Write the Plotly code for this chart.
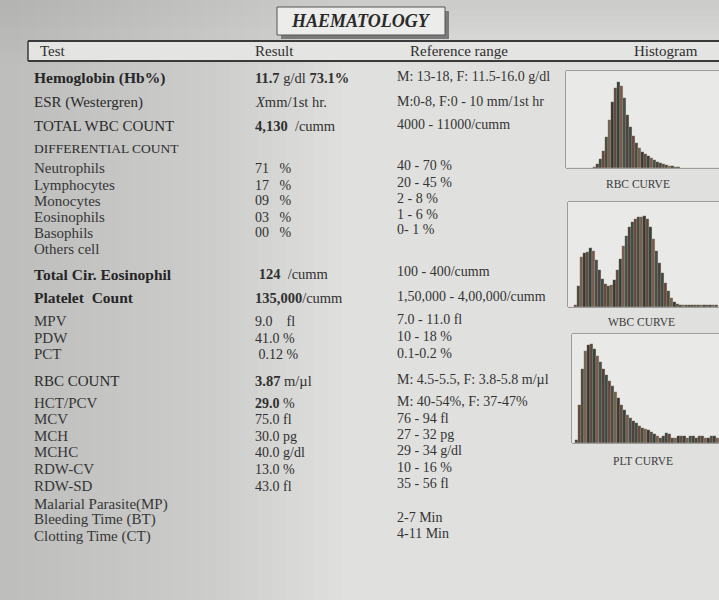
import plotly.graph_objects as go

W, H = 719, 600

# ---------------- data ----------------
title = "HAEMATOLOGY"
header = ["Test", "Result", "Reference range", "Histogram"]

tests = ["Hemoglobin (Hb%)", "ESR (Westergren)", "TOTAL WBC COUNT", "DIFFERENTIAL COUNT",
         "Neutrophils", "Lymphocytes", "Monocytes", "Eosinophils", "Basophils", "Others cell",
         "Total Cir. Eosinophil", "Platelet  Count", "MPV", "PDW", "PCT", "RBC COUNT",
         "HCT/PCV", "MCV", "MCH", "MCHC", "RDW-CV", "RDW-SD",
         "Malarial Parasite(MP)", "Bleeding Time (BT)", "Clotting Time (CT)"]

results = ["<b>11.7</b> g/dl <b>73.1%</b>", "<i>X</i>mm/1st hr.", "<b>4,130</b>  /cumm", "",
           "71   %", "17   %", "09   %", "03   %", "00   %", "",
           " <b>124</b>  /cumm", "<b>135,000</b>/cumm", "9.0    fl", "41.0 %", " 0.12 %", "<b>3.87</b> m/µl",
           "<b>29.0</b> %", "75.0 fl", "30.0 pg", "40.0 g/dl", "13.0 %", "43.0 fl",
           "", "", ""]

ref_ranges = ["M: 13-18, F: 11.5-16.0 g/dl", "M:0-8, F:0 - 10 mm/1st hr", "4000 - 11000/cumm", "",
              "40 - 70 %", "20 - 45 %", "2 - 8 %", "1 - 6 %", "0- 1 %", "",
              "100 - 400/cumm", "1,50,000 - 4,00,000/cumm", "7.0 - 11.0 fl", "10 - 18 %", "0.1-0.2 %",
              "M: 4.5-5.5, F: 3.8-5.8 m/µl",
              "M: 40-54%, F: 37-47%", "76 - 94 fl", "27 - 32 pg", "29 - 34 g/dl", "10 - 16 %", "35 - 56 fl",
              "", "2-7 Min", "4-11 Min"]

rbc_curve = [0, 0, 0, 0, 0, 0, 0, 0, 0.5, 1.5, 4, 9, 18, 32, 50, 68, 82, 89, 85, 72, 55, 42, 33, 26,
             21, 17, 14, 12, 10, 8, 6.5, 5, 4, 3, 2.5, 2, 1.5, 1, 0.5, 0, 0, 0, 0, 0, 0, 0, 0, 0, 0, 0, 0]
wbc_curve = [0, 0, 2, 20, 48, 51, 52, 56, 53, 45, 35, 27, 22, 20, 21, 26, 35, 46, 58, 68, 76, 81, 84,
             86, 86, 87, 84, 76, 65, 53, 42, 32, 23, 15, 9, 5, 3, 2, 2, 1.5, 1.5, 1.5, 1.5, 1.5, 2, 2,
             2, 2, 2, 2]
plt_curve = [0, 3, 35, 68, 84, 90, 91, 86, 80, 74, 68, 62, 57, 52, 47, 41, 35, 30, 26, 23, 20, 18, 16,
             14, 13, 12, 10, 8, 6, 5, 6, 9, 8, 5, 5, 6, 6, 6, 5, 6, 6, 5, 6, 6, 5, 5, 6, 6, 5]
curve_labels = ["RBC CURVE", "WBC CURVE", "PLT CURVE"]

# ---------------- layout constants ----------------
row_y = [78, 102, 126, 148, 168, 185, 201, 217, 233, 249, 274, 298, 321, 338, 354, 381,
         403, 419, 436, 452, 469, 486, 504, 519, 536]
ref_y = [77, 101, 124, 148, 166, 182, 198, 214, 230, 249, 271, 296, 319, 336, 353, 379,
         401, 418, 434, 450, 467, 483, 504, 517, 533]
row_style = ["big", "mid", "mid", "small", "sub", "sub", "sub", "sub", "sub", "sub",
             "big", "big", "sub", "sub", "sub", "mid",
             "sub", "sub", "sub", "sub", "sub", "sub", "sub", "sub", "sub"]
style_font = {
    "big": dict(size=15.5, bold=True, color="#262626"),
    "mid": dict(size=15, bold=False, color="#2a2a2a"),
    "small": dict(size=13.5, bold=False, color="#2e2e2e"),
    "sub": dict(size=15, bold=False, color="#363636"),
}
res_font = {"big": 14.5, "mid": 14.5, "small": 13, "sub": 14}
ref_font = {"big": 14, "mid": 14, "small": 13, "sub": 14}

SERIF = "Liberation Serif, DejaVu Serif, serif"
TXT = "#333333"


def px(x):
    return x / W


def py(y):
    return 1 - y / H


annotations = []
shapes = []


def text(x, y, s, size=14, color=TXT, anchor="left", family=SERIF):
    annotations.append(dict(x=px(x), y=py(y), xref="paper", yref="paper", text=s,
                            showarrow=False, xanchor=anchor, yanchor="middle",
                            font=dict(family=family, size=size, color=color)))


def rect(x0, y0, x1, y1, line=None, fill=None, lw=1):
    shapes.append(dict(type="rect", xref="paper", yref="paper",
                       x0=px(x0), x1=px(x1), y0=py(y1), y1=py(y0),
                       line=dict(color=line or "rgba(0,0,0,0)", width=lw if line else 0),
                       fillcolor=fill or "rgba(0,0,0,0)", layer="below"))


def hline(x0, x1, y, color="#444", lw=1):
    shapes.append(dict(type="line", xref="paper", yref="paper",
                       x0=px(x0), x1=px(x1), y0=py(y), y1=py(y),
                       line=dict(color=color, width=lw)))


def vline(x, y0, y1, color="#444", lw=1):
    shapes.append(dict(type="line", xref="paper", yref="paper",
                       x0=px(x), x1=px(x), y0=py(y0), y1=py(y1),
                       line=dict(color=color, width=lw)))


# paper shading (photo look): smooth darkening toward the left edge and top
rect(0, 0, 719, 600, fill="#e0e0de")
for i in range(24):
    rect(0, 0, 20 + i * 14, 600, fill="rgba(150,150,150,0.018)")
for i in range(10):
    rect(0, 0, 719, 10 + i * 6, fill="rgba(150,150,150,0.02)")

# title box with shadow
rect(281, 11, 449, 39, fill="#7a7a7a")
rect(277, 7, 445, 35, fill="#ececea", line="#555555", lw=1)
text(361, 21, "<b><i>" + title + "</i></b>", size=18, color="#2a2a2a", anchor="center")

# header bar
rect(28, 41, 725, 61, fill="#e4e4e2")
hline(28, 719, 41, color="#3a3a3a", lw=2)
hline(28, 719, 61, color="#3a3a3a", lw=2)
vline(28, 41, 61, color="#3a3a3a", lw=1.5)
for s, x in zip(header, [38, 253, 408, 632]):
    text(x, 51, s, size=15, color="#2e2e2e")

# table rows
for t, r, rr, y, yr, st in zip(tests, results, ref_ranges, row_y, ref_y, row_style):
    f = style_font[st]
    s = "<b>" + t + "</b>" if f["bold"] else t
    text(32, y, s, size=f["size"], color=f["color"])
    if r:
        text(253, y, r, size=res_font[st], color="#303030")
    if rr:
        text(395, yr, rr, size=ref_font[st], color="#343434")

# ---------------- histograms ----------------
fig = go.Figure()
stripe = ["#4f3f3c", "#3b4a42", "#65473f", "#4a4a3d", "#6e6252", "#3f3533", "#5a4c42", "#33423a",
          "#7a5a50", "#44504a"]
boxes = [  # (left, top, bottom, label x, label y)
    (566, 71, 168, 638, 184),
    (568, 202, 307, 641, 322),
    (572, 334, 443, 643, 461),
]
curves = [rbc_curve, wbc_curve, plt_curve]
for k, (curve, (x0, y0, y1, lx, ly), lab) in enumerate(zip(curves, boxes, curve_labels)):
    n = len(curve)
    ax = "" if k == 0 else str(k + 1)
    fig.add_trace(go.Bar(
        x=[i + 0.5 for i in range(n)], y=curve, width=1,
        marker=dict(color=[stripe[i % len(stripe)] for i in range(n)],
                    line=dict(width=0.3, color="rgba(200,190,160,0.5)")),
        xaxis="x" + ax, yaxis="y" + ax, showlegend=False, hoverinfo="skip"))
    x_end = x0 + 3 * n
    fig.layout["xaxis" + ax] = dict(domain=[px(x0), min(1, px(x_end))], range=[0, n],
                                    visible=False, fixedrange=True)
    fig.layout["yaxis" + ax] = dict(domain=[py(y1), py(y0)], range=[0, 100],
                                    visible=False, fixedrange=True)
    rect(x0, y0, 730, y1, line="#5a5a5a", lw=1)
    rect(x0, y0, 730, y1, fill="#e9e9e7")
    text(lx, ly, lab, size=11.5, color="#3a3a3a", anchor="center")

fig.update_layout(
    width=W, height=H, margin=dict(l=0, r=0, t=0, b=0),
    paper_bgcolor="#e0e0de", plot_bgcolor="rgba(0,0,0,0)",
    bargap=0, annotations=annotations, shapes=shapes,
)
fig.write_html("out.html", config={"displayModeBar": False},
               post_script="document.body.style.margin='0';")
